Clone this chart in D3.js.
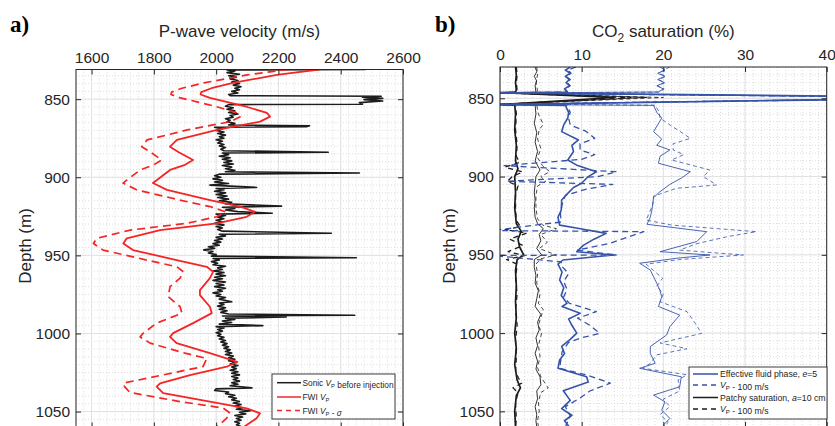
<!DOCTYPE html>
<html>
<head>
<meta charset="utf-8">
<script src="https://cdn.jsdelivr.net/npm/d3@7"></script>
<style>
  body { margin: 0; background: #fff; }
  svg { display: block; font-family: 'Liberation Sans', Arial, sans-serif; }
</style>
</head>
<body>
<svg width="835" height="426"></svg>
<script>
// ---- axes ----
const velTicks = [1600, 1800, 2000, 2200, 2400, 2600]
const satTicks = [0, 10, 20, 30, 40]
const depthTicks = [850, 900, 950, 1000, 1050]

// ---- panel a: [depth (m), velocity (m/s)] ----
const sonicVp = [
  [831, 2480], [831.3, 2035], [832, 2060], [833, 2035], [834, 2075], [835, 2040], [836, 2065], [837, 2045],
  [838, 2070], [839, 2050], [840, 2075], [841, 2055], [842, 2080], [843, 2060], [844, 2075], [845, 2050],
  [846, 2070], [847, 2040], [847.8, 2045], [848.1, 2530], [848.8, 2470], [849.5, 2535], [850.3, 2475],
  [851.2, 2535], [852.2, 2460], [853.2, 2470], [853.5, 2040], [854.5, 2030], [855.5, 2055], [856.5, 2035],
  [857.5, 2060], [858.5, 2040], [859.5, 2070], [860.5, 2045], [861.5, 2055], [862.5, 2030], [863.5, 2045],
  [864.5, 2035], [865.5, 2060], [866.5, 2040], [867, 2300], [867.6, 2290], [868, 1995], [869, 2020],
  [870, 2000], [871, 2025], [872, 2005], [873, 2030], [874, 2010], [875, 2025], [876, 2000], [877, 2020],
  [878, 2005], [879, 2025], [880, 2010], [881, 2030], [882, 2015], [883, 2025], [884, 2360], [884.5, 2020],
  [885.5, 2040], [886.5, 2010], [887.5, 2045], [888.5, 2020], [889.5, 2050], [890.5, 2025], [891.5, 2055],
  [892.5, 2020], [893.5, 2050], [894.5, 2030], [895.5, 2060], [896.5, 2030], [897.3, 2460], [898, 2010],
  [899, 1995], [900, 2015], [901, 1990], [902, 2020], [903, 1995], [904, 2040], [905, 1980], [906.5, 2130],
  [907.2, 2000], [908, 2025], [909, 1995], [910, 2030], [911, 2000], [912, 2035], [913, 2005], [914, 2040],
  [915, 2010], [916, 2050], [917, 2030], [918.5, 2210], [919.2, 2020], [920, 2060], [921, 2030], [922, 2070],
  [923, 2180], [923.6, 2000], [924.5, 2030], [925.5, 2005], [926.5, 2025], [927.5, 2000], [928.5, 2020],
  [929.5, 1995], [930.5, 2025], [931.5, 2000], [932.5, 2020], [933.5, 2005], [934.5, 2020], [935.8, 2370],
  [936.5, 2010], [937.5, 2030], [938.5, 2000], [939.5, 2020], [940.5, 1995], [941.5, 2015], [942.5, 1990],
  [943.5, 2010], [944.5, 1975], [945.5, 1995], [946.5, 1960], [947.5, 1990], [948.5, 1975], [949.5, 2000],
  [950.5, 1985], [951.5, 2450], [952, 1990], [953, 2010], [954, 1985], [955, 2005], [956, 1990], [957, 2030],
  [958, 2005], [959, 2020], [960, 1990], [961, 2025], [962, 2000], [963, 2030], [964, 1995], [965, 2020],
  [966, 1990], [967, 2030], [968, 2000], [969, 2025], [970, 1995], [971, 2030], [972, 2005], [973, 2020],
  [974, 1990], [975, 2015], [976, 2000], [977, 2030], [978, 2010], [979.7, 2050], [980.5, 2010], [981.5, 2025],
  [982.5, 2005], [983.5, 2030], [984.5, 2010], [985.5, 2035], [986.5, 2015], [987.5, 2040], [988.3, 2445],
  [988.8, 2020], [989.5, 2225], [990.2, 2030], [991, 2060], [992, 2020], [993, 2050], [994, 2010], [995, 2150],
  [995.6, 2000], [996.5, 2025], [997.5, 2005], [998.5, 2020], [999.5, 2000], [1000.5, 2015], [1001.5, 2005],
  [1002.5, 2025], [1003.5, 2010], [1004.5, 2030], [1005.5, 2015], [1006.5, 2035], [1007.5, 2020],
  [1008.5, 2040], [1009.5, 2025], [1010.5, 2045], [1011.5, 2030], [1012.5, 2050], [1013.5, 2030],
  [1014.5, 2055], [1015.5, 2040], [1016.5, 2060], [1017.5, 2040], [1018.5, 2065], [1019.5, 2045],
  [1020.5, 2070], [1021.5, 2050], [1022.5, 2065], [1023.5, 2045], [1024.5, 2070], [1025.5, 2050],
  [1026.5, 2075], [1027.5, 2050], [1028.5, 2070], [1029.5, 2055], [1030.5, 2075], [1031.5, 2050],
  [1032.5, 2070], [1033.5, 2045], [1034.8, 2115], [1035.5, 2000], [1036.5, 1995], [1037.5, 2040],
  [1038.5, 2030], [1039.5, 2060], [1040.5, 2040], [1041.5, 2065], [1042.5, 2050], [1043.5, 2075],
  [1044.5, 2055], [1045.5, 2080], [1046.5, 2060], [1047.5, 2085], [1048.5, 2065], [1049.5, 2110],
  [1050.5, 2075], [1051.5, 2095], [1052.5, 2060], [1053.5, 2085], [1054.5, 2065], [1055.5, 2080],
  [1056.5, 2060], [1057.5, 2075], [1058.5, 2065], [1059.5, 2080], [1060.4, 2070]
]

const fwiVp = [
  [831, 2330], [834.4, 2195], [839.6, 2054], [843, 1985], [845.5, 1952], [847, 1950], [849.2, 1980],
  [852, 2040], [855, 2100], [858.8, 2163], [861.2, 2173], [864.4, 2141], [869.7, 2003], [876.1, 1874],
  [880.4, 1852], [884, 1880], [888.9, 1926], [892, 1900], [895.3, 1852], [901.7, 1810], [903.7, 1797],
  [908.1, 1842], [914.6, 1980], [919, 2080], [922.1, 2125], [925.3, 2098], [929.5, 2002], [933.8, 1820],
  [939.1, 1713], [942.4, 1702], [946.6, 1733], [953, 1873], [957.3, 1970], [960.5, 1990], [964.6, 1980],
  [972.2, 1948], [975.4, 1948], [982.9, 1980], [987, 1986], [993.4, 1926], [999.8, 1862], [1002.2, 1852],
  [1006.2, 1873], [1012.6, 1980], [1018.2, 2068], [1021.3, 2034], [1026.6, 1916], [1031.9, 1820],
  [1034, 1809], [1038.2, 1830], [1043.6, 1980], [1047.9, 2098], [1051.1, 2141], [1054.3, 2130],
  [1058.6, 2098], [1060.4, 2085]
]

const fwiVpSigma = [
  [831, 2232], [834.4, 2100], [839.6, 1960], [843, 1890], [845.5, 1857], [847, 1855], [849.2, 1885],
  [852, 1945], [855, 2005], [858.8, 2068], [861.2, 2077], [864.4, 2045], [869.7, 1907], [876.1, 1778],
  [880.4, 1761], [884, 1790], [888.9, 1825], [892, 1800], [895.3, 1756], [901.7, 1714], [903.7, 1701],
  [908.1, 1746], [914.6, 1884], [919, 1985], [922.1, 2030], [925.3, 2002], [929.5, 1906], [933.8, 1724],
  [939.1, 1617], [942.4, 1606], [946.6, 1637], [953, 1777], [957.3, 1874], [960.5, 1895], [964.6, 1884],
  [970, 1852], [976.4, 1846], [982.8, 1884], [987, 1890], [993.4, 1809], [999.8, 1766], [1002.2, 1756],
  [1006.2, 1788], [1012.6, 1900], [1016, 1970], [1021.2, 1958], [1026.5, 1830], [1031.8, 1702],
  [1034, 1706], [1037.8, 1723], [1043.6, 1884], [1047.8, 2023], [1051, 2045], [1054.2, 2034],
  [1058.5, 2010], [1060.4, 1995]
]

// ---- panel b: [depth (m), CO2 saturation (%)] ----
const effThick = [
  [830, 8.6], [832, 8.0], [834, 8.6], [836, 8.0], [838, 8.5], [840, 8.1], [842, 8.5], [844, 7.9], [846, 8.2],
  [846.5, 0], [849.5, 60], [854, 0], [854.5, 8.0], [859, 8.4], [862.6, 8.3], [867, 7.8], [871.3, 7.55],
  [876.6, 9.6], [880, 8.8], [884, 9.0], [889.4, 8.3], [893, 9.5], [896.9, 11.8], [900, 10.8], [904.3, 10.0],
  [907, 9.0], [910.7, 8.3], [915, 7.55], [921.4, 7.5], [926, 7.1], [931, 7.3], [933, 9.5], [936.3, 13.0],
  [940, 11.5], [944, 10.2], [948, 9.4], [950.1, 13.9], [953.3, 7.7], [956, 7.1], [961, 7.6], [966, 7.3],
  [971, 7.8], [976, 7.5], [981, 8.2], [983, 7.6], [987.4, 9.8], [991, 8.4], [995, 8.8], [1000, 9.4],
  [1004, 8.6], [1008.5, 7.55], [1013, 7.9], [1017.2, 7.3], [1022.5, 7.1], [1027.9, 10.6], [1031.3, 10.8],
  [1036.8, 7.75], [1043, 8.6], [1048.3, 7.55], [1052.5, 8.8], [1056, 7.9], [1060, 8.5]
]
const effThickLow = [
  [830, 9.3], [832, 8.3], [834, 8.7], [836, 8.1], [838, 8.6], [840, 8.2], [842, 8.6], [844, 8.0], [846, 8.3],
  [846.6, 0], [849.7, 58], [853.8, 0], [854.4, 8.2], [859, 8.6], [862.6, 8.4], [867, 8.6], [871, 10.5],
  [875.6, 11.6], [879, 9.8], [883, 9.8], [886, 11.6], [889, 10.0], [893, 0.5], [896.9, 14.3], [900, 12.0],
  [903, 0.8], [905, 13.8], [908, 10.6], [912, 8.0], [918, 7.6], [924, 7.4], [929, 7.5], [934.5, -1],
  [935.2, 17.6], [942.6, 13.5], [947, 9.5], [950.1, 14.3], [950.4, -1], [954.5, 7.5], [957, 7.5],
  [962, 8.4], [967, 7.8], [972, 8.2], [977, 7.8], [981, 8.5], [986.3, 11.8], [990.5, 9.5], [995, 11.0],
  [1000.2, 12.2], [1003, 10], [1006, 8.4], [1012, 7.6], [1022.5, 7.3], [1027, 10.8], [1032, 13.5],
  [1037, 11], [1041.5, 9.8], [1047, 8.0], [1053, 8.6], [1060, 8.0]
]
const effThin = [
  [830, 19.6], [832, 20.2], [834, 19.3], [836, 20.2], [838, 19.3], [840, 20.1], [842, 19.2], [844, 20.0],
  [846, 19.4], [846.6, 0], [849.4, 55], [853.9, 0], [854.5, 18.8], [859, 19.2], [862.6, 19.8], [867, 19.3],
  [871.3, 18.8], [876, 19.8], [880, 19.2], [883, 20.8], [887, 19.6], [891.5, 19.4], [896.9, 23.3],
  [901, 22.2], [905, 20.8], [910, 19.5], [913.5, 18.8], [921.4, 18.6], [926, 18.4], [930.5, 18.0],
  [935.2, 25.3], [941.5, 24.1], [948, 19.6], [950.1, 25.7], [952.2, 21.6], [955.4, 17.1], [959.7, 18.4],
  [964, 18.8], [968.2, 19.2], [973, 19.6], [976.8, 19.8], [983, 19.4], [988.5, 22.0], [995.9, 20.8],
  [1001.2, 20.4], [1008.6, 18.4], [1013, 18.4], [1019.3, 19.0], [1022.5, 17.1], [1027.9, 22.2],
  [1034.3, 22.0], [1039.6, 18.8], [1043.9, 20.2], [1049.2, 19.8], [1054.5, 20.8], [1058.8, 20.0],
  [1060, 20.3]
]
const effThinLow = [
  [830, 20.8], [832, 20.0], [834, 19.5], [836, 20.3], [838, 19.4], [840, 20.2], [842, 19.3], [844, 20.1],
  [846, 19.5], [846.7, 0], [849.6, 56], [853.7, 0], [854.4, 19.0], [859, 19.5], [862.6, 19.6], [867, 20.8],
  [871, 22], [875.6, 23.3], [879, 21.2], [883, 21.2], [886, 22.5], [889.4, 21.0], [895.8, 25.7],
  [900, 24.9], [905.4, 26.5], [907.5, 21.6], [912.5, 18.8], [918, 18.7], [923, 18.3], [927.8, 17.9],
  [931, 21.0], [935.2, 31.4], [938.4, 27.8], [943, 24], [947, 22], [950.1, 29.8], [953, 22], [956, 17.9],
  [960, 18.8], [965, 19.9], [970, 19.2], [975, 20.0], [980, 19.6], [986.3, 22.9], [993, 23.8],
  [1000.2, 24.7], [1006.3, 19.6], [1010, 22.9], [1013.9, 19.2], [1019.3, 18.4], [1022.5, 17.5],
  [1026.6, 22.9], [1030, 21.8], [1037, 22.0], [1042.2, 20.0], [1047, 20.8], [1052, 19.6], [1057, 20.6],
  [1060, 20.0]
]
const patchyThick = [
  [830, 1.9], [835, 2.0], [840, 1.9], [845, 2.0], [846.2, 1.8], [846.3, 0], [849.5, 14], [854, 0],
  [854.3, 1.8], [860, 1.9], [870, 1.8], [880, 2.0], [890, 1.9], [895, 2.2], [900, 1.8], [910, 1.9],
  [920, 1.8], [930, 2.0], [935, 2.6], [940, 2.2], [945, 2.4], [950, 2.9], [953, 2.1], [960, 1.9],
  [970, 2.0], [980, 1.9], [990, 2.0], [1000, 1.8], [1010, 2.0], [1020, 1.8], [1030, 2.1], [1035, 2.5],
  [1040, 2.0], [1050, 1.8], [1060, 1.9]
]
const patchyThickLow = [
  [830, 2.0], [835, 2.1], [840, 2.0], [845, 2.1], [846.2, 1.9], [846.4, 0], [849.6, 16], [853.9, 0],
  [854.3, 1.9], [860, 2.0], [870, 1.9], [880, 2.1], [887, 2.0], [891, 2.4], [894, 0.6], [897, 2.8],
  [900, 1.5], [903, 0.9], [906, 2.2], [912, 1.9], [920, 1.9], [928, 2.0], [932, 2.5], [934, 0.6],
  [936, 3.3], [940, 1.2], [944, 2.8], [948, 1.0], [950.5, 3.0], [953, 0.8], [956, 2.1], [965, 1.9],
  [975, 2.1], [985, 1.9], [995, 2.1], [1005, 1.9], [1015, 2.0], [1025, 1.9], [1029, 2.3], [1032, 2.65],
  [1035, 1.6], [1038, 2.2], [1045, 1.9], [1055, 2.0], [1060, 1.9]
]
const patchyThin = [
  [830, 4.3], [833, 4.5], [836, 4.2], [839, 4.5], [842, 4.3], [846.2, 4.4], [846.4, 0], [849.4, 18],
  [854, 0], [854.3, 4.3], [860, 4.4], [866, 4.2], [872, 4.5], [878, 4.3], [884, 4.6], [890, 4.3],
  [895.8, 4.9], [900, 4.4], [905, 4.3], [910, 4.2], [915, 4.3], [920, 4.2], [926, 4.3], [930, 4.6],
  [933.3, 5.3], [937, 4.8], [941, 5.0], [946, 4.5], [950, 5.1], [953, 4.2], [958, 4.2], [963, 4.4],
  [968, 4.3], [973, 4.7], [978, 4.5], [983, 4.3], [988, 5.0], [993, 4.6], [998, 4.8], [1003, 4.4],
  [1008, 4.6], [1013, 4.3], [1018, 4.6], [1023, 4.4], [1028, 4.9], [1033, 5.0], [1037, 4.5], [1042, 4.6],
  [1047, 4.3], [1052, 4.5], [1056, 4.4], [1060, 4.5]
]
const patchyThinLow = [
  [830, 4.5], [835, 4.6], [840, 4.4], [845, 4.6], [846.2, 4.5], [846.5, 0], [849.5, 20], [853.8, 0],
  [854.3, 4.5], [860, 4.7], [866.7, 5.3], [870, 4.8], [876, 4.6], [882, 5.0], [888, 4.6], [893, 5.2],
  [896.9, 6.1], [900, 5.0], [903, 5.6], [906, 4.6], [912, 4.4], [920, 4.4], [927, 4.6], [931, 5.2],
  [933.3, 6.9], [937, 5.0], [942, 5.8], [946, 4.8], [950.1, 6.9], [952.5, 5.0], [956, 4.4], [962, 4.6],
  [968, 4.5], [975, 4.9], [981, 4.7], [985, 5.3], [990, 5.0], [995, 4.7], [1000, 5.1], [1008, 4.7],
  [1015, 4.9], [1022, 4.6], [1028, 5.0], [1035, 5.9], [1038, 5.0], [1044, 4.7], [1050, 4.8], [1056, 4.6],
  [1060, 4.7]
]

const red = '#f42525'
const blue = '#3553a8'
const ink = '#1c1c1c'
const axisInk = '#262626'

const svg = d3.select('svg')

function makePanel(id, box, xDomain, yDomain, xTicks, xMinorStep, yMinorStep) {
  const x = d3.scaleLinear().domain(xDomain).range([box.left, box.right])
  const y = d3.scaleLinear().domain(yDomain).range([box.top, box.bottom])
  const g = svg.append('g')

  g.append('clipPath').attr('id', id)
    .append('rect')
    .attr('x', box.left).attr('y', box.top)
    .attr('width', box.right - box.left).attr('height', box.bottom - box.top)

  const xMinor = d3.range(Math.ceil(xDomain[0] / xMinorStep) * xMinorStep, xDomain[1], xMinorStep)
  const yMinor = d3.range(Math.ceil(yDomain[0] / yMinorStep) * yMinorStep, yDomain[1], yMinorStep)

  const grid = g.append('g')
  grid.selectAll('line.vm').data(xMinor).join('line')
    .attr('class', 'vm')
    .attr('x1', d => x(d)).attr('x2', d => x(d))
    .attr('y1', box.top).attr('y2', box.bottom)
  grid.selectAll('line.hm').data(yMinor).join('line')
    .attr('class', 'hm')
    .attr('y1', d => y(d)).attr('y2', d => y(d))
    .attr('x1', box.left).attr('x2', box.right)
  grid.selectAll('line.vm, line.hm')
    .attr('stroke', '#cfcfcf')
    .attr('stroke-width', 0.7)
    .attr('stroke-dasharray', '1,2')

  grid.selectAll('line.vM').data(xTicks).join('line')
    .attr('class', 'vM')
    .attr('x1', d => x(d)).attr('x2', d => x(d))
    .attr('y1', box.top).attr('y2', box.bottom)
  grid.selectAll('line.hM').data(depthTicks).join('line')
    .attr('class', 'hM')
    .attr('y1', d => y(d)).attr('y2', d => y(d))
    .attr('x1', box.left).attr('x2', box.right)
  grid.selectAll('line.vM, line.hM')
    .attr('stroke', '#e2e2e2')
    .attr('stroke-width', 1)

  const plot = g.append('g').attr('clip-path', `url(#${id})`)

  return { g, plot, x, y, box }
}

function frame(p, xTicks) {
  const { g, x, y, box } = p
  const top = g.append('g').attr('transform', `translate(0,${box.top})`)
    .call(d3.axisTop(x).tickValues(xTicks).tickSize(-5).tickPadding(7).tickFormat(d3.format('d')))
  const bottom = g.append('g').attr('transform', `translate(0,${box.bottom})`)
    .call(d3.axisBottom(x).tickValues(xTicks).tickSize(-5).tickFormat(''))
  const left = g.append('g').attr('transform', `translate(${box.left},0)`)
    .call(d3.axisLeft(y).tickValues(depthTicks).tickSize(-5).tickPadding(6).tickFormat(d3.format('d')))
  const right = g.append('g').attr('transform', `translate(${box.right},0)`)
    .call(d3.axisRight(y).tickValues(depthTicks).tickSize(-5).tickFormat(''))
  ;[top, bottom, left, right].forEach(a => {
    a.select('.domain').remove()
    a.selectAll('line').attr('stroke', axisInk).attr('stroke-width', 1)
    a.selectAll('text').attr('fill', axisInk).style('font-size', '15.5px')
      .style('font-family', "'Liberation Sans', Arial, sans-serif")
  })
  g.append('rect')
    .attr('x', box.left).attr('y', box.top)
    .attr('width', box.right - box.left).attr('height', box.bottom - box.top)
    .attr('fill', 'none').attr('stroke', axisInk).attr('stroke-width', 1)
}

function trace(p, data, color, width, dash) {
  p.plot.append('path')
    .datum(data)
    .attr('fill', 'none')
    .attr('stroke', color)
    .attr('stroke-width', width)
    .attr('stroke-linejoin', 'round')
    .attr('stroke-dasharray', dash || null)
    .attr('d', d3.line().x(d => p.x(d[1])).y(d => p.y(d[0])))
}

function vp(sel, size) {
  sel.append('tspan').attr('font-style', 'italic').text('V')
  sel.append('tspan').attr('font-size', size * 0.7).attr('dy', 2).text('P')
  sel.append('tspan').attr('dy', -2).text('')
}

// ---------- panel a ----------
const pa = makePanel('clipA', { left: 76, right: 403, top: 69.5, bottom: 427.5 },
  [1550, 2600], [831, 1060.2], velTicks, 25, 5)

trace(pa, sonicVp, ink, 1.6)
trace(pa, fwiVpSigma, red, 1.7, '8,5')
trace(pa, fwiVp, red, 1.8)
frame(pa, velTicks)

svg.append('text')
  .attr('x', (76 + 403) / 2).attr('y', 37)
  .attr('text-anchor', 'middle')
  .style('font-size', '17px').attr('fill', axisInk)
  .text('P-wave velocity (m/s)')

svg.append('text')
  .attr('transform', 'translate(31,246) rotate(-90)')
  .attr('text-anchor', 'middle')
  .style('font-size', '17px').attr('fill', axisInk)
  .text('Depth (m)')

svg.append('text')
  .attr('x', 10).attr('y', 32)
  .style('font-family', "'Liberation Serif', 'Times New Roman', serif")
  .style('font-weight', 'bold').style('font-size', '23px')
  .text('a)')

// legend a
const legA = svg.append('g')
legA.append('rect')
  .attr('x', 272).attr('y', 374).attr('width', 123).attr('height', 45)
  .attr('fill', '#fff').attr('stroke', axisInk).attr('stroke-width', 0.9)
const legAItems = [
  { y: 382.7, color: ink, dash: null, pre: 'Sonic ', post: ' before injection' },
  { y: 397, color: red, dash: null, pre: 'FWI ', post: '' },
  { y: 410.5, color: red, dash: '5,4', pre: 'FWI ', post: ' - σ' }
]
legAItems.forEach(it => {
  legA.append('line')
    .attr('x1', 277).attr('x2', 301).attr('y1', it.y).attr('y2', it.y)
    .attr('stroke', it.color).attr('stroke-width', 1.5).attr('stroke-dasharray', it.dash)
  const t = legA.append('text')
    .attr('x', 302.5).attr('y', it.y + 3)
    .style('font-size', '8.3px').attr('fill', ink)
  t.append('tspan').text(it.pre)
  vp(t, 8.3)
  if (it.post === ' - σ') {
    t.append('tspan').text(' - ')
    t.append('tspan').attr('font-style', 'italic').text('σ')
  } else {
    t.append('tspan').text(it.post)
  }
})

// ---------- panel b ----------
const pb = makePanel('clipB', { left: 500, right: 826.7, top: 67, bottom: 427 },
  [0, 40], [830, 1060], satTicks, 1, 5)

trace(pb, patchyThinLow, ink, 0.8, '4,3')
trace(pb, patchyThickLow, ink, 1.3, '5,4')
trace(pb, patchyThin, ink, 0.9)
trace(pb, patchyThick, ink, 1.7)
trace(pb, effThinLow, blue, 0.8, '4,3')
trace(pb, effThickLow, blue, 1.3, '6,4')
trace(pb, effThin, blue, 0.9)
trace(pb, effThick, blue, 1.6)
frame(pb, satTicks)

const tb = svg.append('text')
  .attr('x', (500 + 826.7) / 2).attr('y', 37)
  .attr('text-anchor', 'middle')
  .style('font-size', '17px').attr('fill', axisInk)
tb.append('tspan').text('CO')
tb.append('tspan').attr('font-size', 12).attr('dy', 5).text('2')
tb.append('tspan').attr('dy', -5).text(' saturation (%)')

svg.append('text')
  .attr('transform', 'translate(455,246) rotate(-90)')
  .attr('text-anchor', 'middle')
  .style('font-size', '17px').attr('fill', axisInk)
  .text('Depth (m)')

svg.append('text')
  .attr('x', 435).attr('y', 32)
  .style('font-family', "'Liberation Serif', 'Times New Roman', serif")
  .style('font-weight', 'bold').style('font-size', '23px')
  .text('b)')

// legend b
const legB = svg.append('g')
legB.append('rect')
  .attr('x', 689).attr('y', 367).attr('width', 138).attr('height', 52)
  .attr('fill', '#fff').attr('stroke', axisInk).attr('stroke-width', 0.9)
const legBItems = [
  { y: 374, color: blue, dash: null, kind: 'eff' },
  { y: 385, color: blue, dash: '5,4', kind: 'low' },
  { y: 397.5, color: ink, dash: null, kind: 'patchy' },
  { y: 409, color: ink, dash: '5,4', kind: 'low' }
]
legBItems.forEach(it => {
  legB.append('line')
    .attr('x1', 693).attr('x2', 718).attr('y1', it.y).attr('y2', it.y)
    .attr('stroke', it.color).attr('stroke-width', 1.5).attr('stroke-dasharray', it.dash)
  const t = legB.append('text')
    .attr('x', 720).attr('y', it.y + 3)
    .style('font-size', '8.7px').attr('fill', ink)
  if (it.kind === 'eff') {
    t.append('tspan').text('Effective fluid phase, ')
    t.append('tspan').attr('font-style', 'italic').text('e')
    t.append('tspan').text('=5')
  } else if (it.kind === 'patchy') {
    t.append('tspan').text('Patchy saturation, ')
    t.append('tspan').attr('font-style', 'italic').text('a')
    t.append('tspan').text('=10 cm')
  } else {
    t.append('tspan').text(' ')
    vp(t, 8.7)
    t.append('tspan').text(' - 100 m/s')
  }
})
</script>
</body>
</html>
